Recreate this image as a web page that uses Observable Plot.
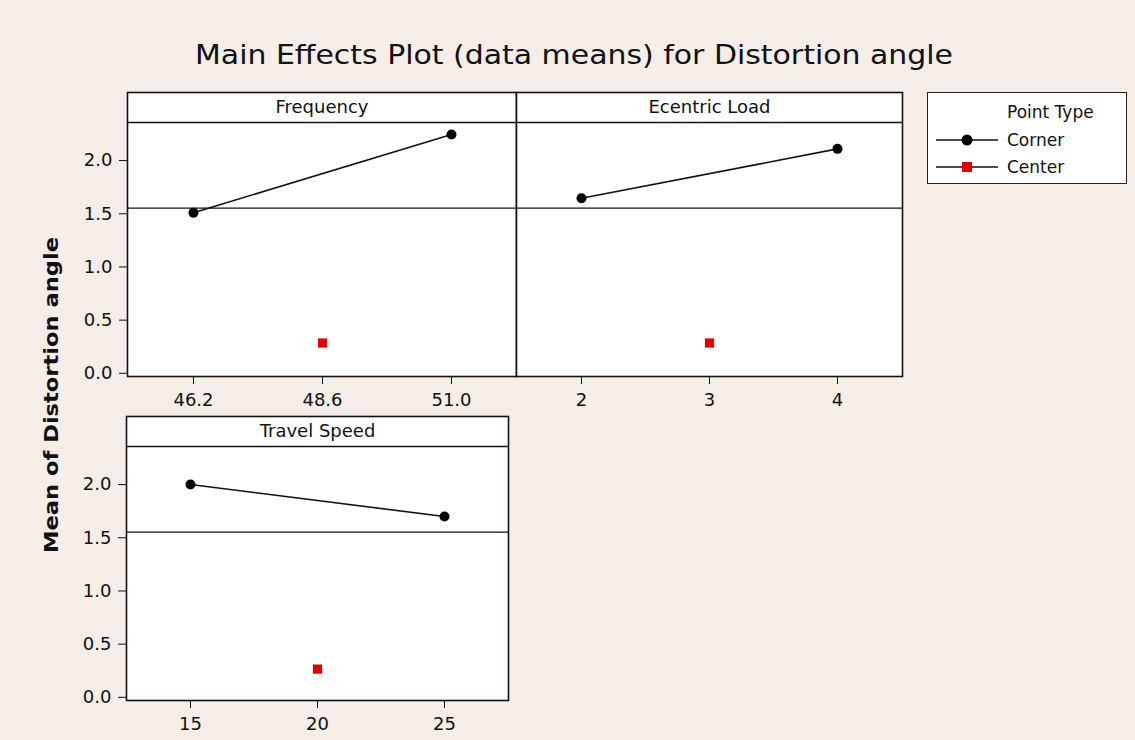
<!DOCTYPE html>
<html>
<head>
<meta charset="utf-8">
<script src="https://cdn.jsdelivr.net/npm/d3@7"></script>
<script src="https://cdn.jsdelivr.net/npm/@observablehq/plot@0.6"></script>
<style>
  html, body { margin: 0; padding: 0; }
  body { width: 1135px; height: 740px; background: #f4ede8; font-family: "DejaVu Sans", sans-serif; }
  #root { position: relative; width: 1135px; height: 740px; overflow: hidden; }
  .abs { position: absolute; }
  #texts { left: 0; top: 0; }
  #legend { left: 927px; top: 92px; width: 200px; height: 92px; border: 1.5px solid #222; background: white; box-sizing: border-box; font-size: 17px; color: #111; }
  #legend .row { position: absolute; left: 0; height: 20px; display: flex; align-items: center; white-space: nowrap; }
  svg { overflow: visible; }
</style>
</head>
<body>
<div id="root">
  <svg id="texts" class="abs" width="1135" height="740">
    <text id="title" x="195" y="64" font-size="27" fill="#111" font-family="DejaVu Sans, sans-serif" textLength="758" lengthAdjust="spacingAndGlyphs">Main Effects Plot (data means) for Distortion angle</text>
    <text id="ylabel" transform="translate(58,553) rotate(-90)" x="0" y="0" font-size="20" font-weight="bold" fill="#111" font-family="DejaVu Sans, sans-serif" textLength="316" lengthAdjust="spacingAndGlyphs">Mean of Distortion angle</text>
  </svg>
  <div id="legend" class="abs"></div>
</div>
<script>
// ---- data ----
const factors = ["Frequency", "Ecentric Load", "Travel Speed"];
const frequencyLevels = ["46.2", "48.6", "51.0"];
const ecentricLevels = ["2", "3", "4"];
const speedLevels = ["15", "20", "25"];
const frequencyCorner = [1.51, 2.245];
const ecentricCorner = [1.645, 2.11];
const speedCorner = [2.0, 1.70];
const centerMeans = [0.285, 0.285, 0.265];
const overallMean = 1.553;
const yTicks = [0.0, 0.5, 1.0, 1.5, 2.0];
const pointTypes = ["Corner", "Center"];

// ---- drawing ----
const yDomain = [-0.03, 2.64];
const headerLine = 2.358;
const root = document.getElementById("root");

function panel(label, levels, corner, center, showY, frameLeft, frameTop, frameW) {
  const mL = showY ? 60 : 2, mT = 2, mR = 2, mB = 40, frameH = 284;
  const cornerData = [
    {x: levels[0], y: corner[0]},
    {x: levels[2], y: corner[1]}
  ];
  const centerData = [{x: levels[1], y: center}];
  const p = Plot.plot({
    width: mL + frameW + mR,
    height: mT + frameH + mB,
    marginLeft: mL, marginTop: mT, marginRight: mR, marginBottom: mB,
    style: {background: "transparent", fontFamily: "'DejaVu Sans', sans-serif", fontSize: "18px", color: "#111", overflow: "visible"},
    x: {type: "point", domain: levels, padding: 0.5, label: null, tickSize: 8, tickPadding: 9},
    y: {domain: yDomain, ticks: yTicks, tickFormat: ".1f", label: null, axis: showY ? "left" : null, tickSize: 8, tickPadding: 7},
    marks: [
      Plot.frame({fill: "white", stroke: null}),
      Plot.ruleY([overallMean], {stroke: "#111", strokeWidth: 1.3}),
      Plot.ruleY([headerLine], {stroke: "#111", strokeWidth: 1.6}),
      Plot.text([label], {text: d => d, frameAnchor: "top", lineAnchor: "middle", dy: 15, fontSize: 18, fill: "#111"}),
      Plot.line(cornerData, {x: "x", y: "y", stroke: "#111", strokeWidth: 1.6}),
      Plot.dot(cornerData, {x: "x", y: "y", fill: "#000", r: 5, stroke: null}),
      Plot.dot(centerData, {x: "x", y: "y", symbol: "square", fill: "#e00000", r: 5.2, stroke: null}),
      Plot.frame({stroke: "#111", strokeWidth: 1.6})
    ]
  });
  p.style.position = "absolute";
  p.style.left = (frameLeft - mL) + "px";
  p.style.top = (frameTop - mT) + "px";
  root.appendChild(p);
}

panel(factors[0], frequencyLevels, frequencyCorner, centerMeans[0], true, 127, 92, 389);
panel(factors[1], ecentricLevels, ecentricCorner, centerMeans[1], false, 516, 92, 386);
panel(factors[2], speedLevels, speedCorner, centerMeans[2], true, 126, 416, 382);

// ---- legend ----
const legend = document.getElementById("legend");
const head = document.createElement("div");
head.className = "row";
head.style.left = "79px"; head.style.top = "9px";
head.textContent = "Point Type";
legend.appendChild(head);
const legendStyles = {
  Corner: {fill: "#000", sym: "circle"},
  Center: {fill: "#e00000", sym: "square"}
};
pointTypes.forEach((t, i) => {
  const row = document.createElement("div");
  row.className = "row";
  row.style.top = (37 + i * 27) + "px";
  row.style.left = "8px";
  const s = legendStyles[t];
  const shape = s.sym === "circle"
    ? `<circle cx="31" cy="10" r="5.5" fill="${s.fill}"/>`
    : `<rect x="26" y="5" width="10" height="10" fill="${s.fill}"/>`;
  row.innerHTML = `<svg width="62" height="20"><line x1="0" x2="62" y1="10" y2="10" stroke="#111" stroke-width="1.6"/>${shape}</svg><span style="margin-left:9px">${t}</span>`;
  legend.appendChild(row);
});
</script>
</body>
</html>
